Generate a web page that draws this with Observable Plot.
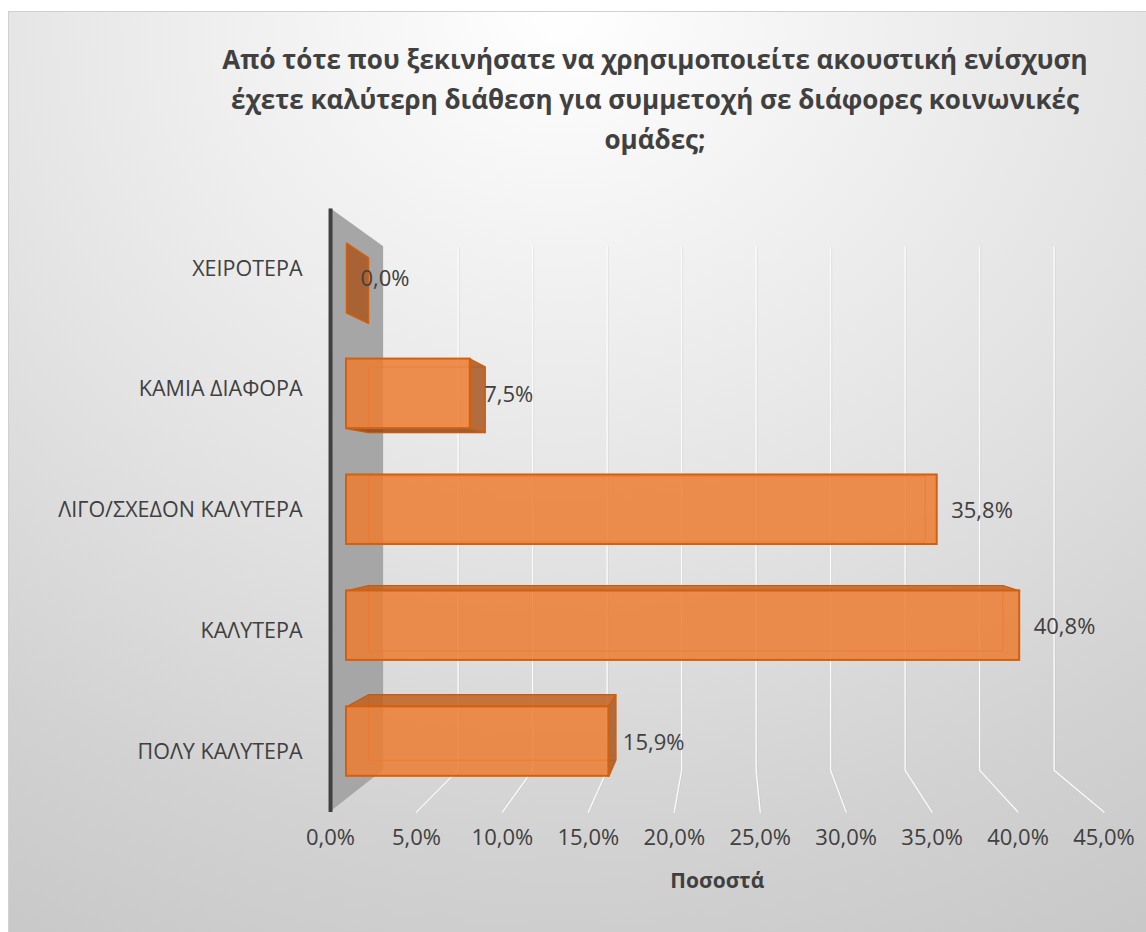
<!DOCTYPE html>
<html>
<head>
<meta charset="utf-8">
<script src="https://cdn.jsdelivr.net/npm/d3@7"></script>
<script src="https://cdn.jsdelivr.net/npm/@observablehq/plot@0.6"></script>
<style>
  html, body { margin: 0; padding: 0; background: #ffffff; }
  #wrap { position: relative; width: 1146px; height: 932px; overflow: hidden; }
  #frame {
    position: absolute; left: 8px; top: 11px; width: 1150px; height: 930px;
    box-sizing: border-box; border: 1px solid #d0d0d0;
    background: radial-gradient(ellipse 110% 120% at 48% 0%, #ffffff 0%, #f3f3f3 20%, #e3e3e3 48%, #d2d2d2 75%, #c5c5c5 100%);
  }
  #title {
    position: absolute; left: 205px; top: 39px; width: 900px;
    text-align: center; font-family: "Open Sans", sans-serif; font-weight: 700;
    font-size: 26px; line-height: 40px; color: #404040; white-space: nowrap;
  }
  #chart { position: absolute; left: 0; top: 0; }
  #chart svg { background: none !important; overflow: visible; }
</style>
</head>
<body>
<div id="wrap">
  <div id="frame"></div>
  <div id="title"></div>
  <div id="chart"></div>
</div>
<script>
// ---- data ----
const titleLines = [
  "Από τότε που ξεκινήσατε να χρησιμοποιείτε ακουστική ενίσχυση",
  "έχετε καλύτερη διάθεση για συμμετοχή σε διάφορες κοινωνικές",
  "ομάδες;"
];
const categories = ["ΧΕΙΡΟΤΕΡΑ", "ΚΑΜΙΑ ΔΙΑΦΟΡΑ", "ΛΙΓΟ/ΣΧΕΔΟΝ ΚΑΛΥΤΕΡΑ", "ΚΑΛΥΤΕΡΑ", "ΠΟΛΥ ΚΑΛΥΤΕΡΑ"];
const values = [0.0, 7.5, 35.8, 40.8, 15.9];
const tickValues = [0, 5, 10, 15, 20, 25, 30, 35, 40, 45];
const axisTitle = "Ποσοστά";

// ---- perspective (in data units) ----
const VX = 23.2, VY = 1.89;           // vanishing point
const K_BAR_BACK = 0.9425, K_WALL = 0.903, K_FRONT = 1.0417;
const H = 0.3;                         // half bar thickness (band units)
const proj = (x, y, k) => ({x: VX + (x - VX) * k, y: VY + (y - VY) * k});
const fmt = v => d3.format(".1f")(v).replace(".", ",") + "%";

document.getElementById("title").innerHTML = titleLines.join("<br>");

const rows = categories.map((c, i) => ({cat: c, i, v: values[i]}));

// polygons
const poly = (id, pts) => pts.map(([x, y, k]) => ({id, ...proj(x, y, k)}));
const backFaces = [], topFaces = [], bottomFaces = [], rightFaces = [];
rows.forEach(({i, v}) => {
  const y1 = i - H, y2 = i + H, f = 1, b = K_BAR_BACK;
  backFaces.push(...poly("b" + i, [[0, y1, b], [v, y1, b], [v, y2, b], [0, y2, b], [0, y1, b]]));
  if (y1 > VY) topFaces.push(...poly("t" + i, [[0, y1, f], [v, y1, f], [v, y1, b], [0, y1, b], [0, y1, f]]));
  if (y2 < VY) bottomFaces.push(...poly("d" + i, [[0, y2, f], [v, y2, f], [v, y2, b], [0, y2, b], [0, y2, f]]));
  if (v < VX) rightFaces.push(...poly("r" + i, [[v, y1, f], [v, y1, b], [v, y2, b], [v, y2, f], [v, y1, f]]));
});

// wall & grid
const yTop = -0.5, yBot = 4.5;
const wall = [
  {x: proj(0, yTop, K_FRONT).x, y1: proj(0, yBot, K_FRONT).y, y2: proj(0, yTop, K_FRONT).y},
  {x: proj(0, yTop, K_WALL).x, y1: proj(0, yBot, K_WALL).y, y2: proj(0, yTop, K_WALL).y}
];
const axisLine = [proj(0, yTop, K_FRONT), proj(0, yBot, K_FRONT)];
const grid = tickValues.filter(t => t > 0).flatMap(t => [
  {t, ...proj(t, yTop, K_WALL)}, {t, ...proj(t, yBot, K_WALL)}, {t, ...proj(t, yBot, K_FRONT)}
]);
const ticks = tickValues.map(t => ({t, ...proj(t, yBot, K_FRONT)}));
const catLabels = rows.map(r => ({cat: r.cat, ...proj(0, r.i, K_FRONT)}));
const titlePos = [{label: axisTitle, ...proj(22.5, yBot, K_FRONT)}];

const FONT = "'Open Sans', sans-serif";
const chart = Plot.plot({
  width: 1146, height: 932,
  x: {domain: [0, 45], range: [346, 1088.5], axis: null},
  y: {domain: [-0.5, 4.5], range: [219.5, 799], axis: null},
  style: {background: "transparent", fontFamily: FONT, color: "#404040"},
  marks: [
    // side wall
    Plot.areaY(wall, {x: "x", y1: "y1", y2: "y2", fill: "#a6a6a6"}),
    Plot.line(axisLine, {x: "x", y: "y", stroke: "#404040", strokeWidth: 4, strokeLinecap: "butt"}),
    // gridlines
    Plot.line(grid, {x: "x", y: "y", z: "t", stroke: "#b8b8b8", strokeOpacity: 0.35, strokeWidth: 1, dx: 1, strokeLinejoin: "miter"}),
    Plot.line(grid, {x: "x", y: "y", z: "t", stroke: "#fbfbfb", strokeWidth: 1.3, strokeLinejoin: "miter"}),
    // bars: back edges
    Plot.line(backFaces, {x: "x", y: "y", z: "id", stroke: "#d9651b", strokeWidth: 1, strokeOpacity: 0.8, fill: "none"}),
    // top / bottom / right faces
    Plot.line(topFaces, {x: "x", y: "y", z: "id", fill: "#c0601f", fillOpacity: 0.85, stroke: "#c55a11", strokeWidth: 1.2}),
    Plot.line(bottomFaces, {x: "x", y: "y", z: "id", fill: "#8f4716", fillOpacity: 0.85, stroke: "#c55a11", strokeWidth: 1.2}),
    Plot.line(rightFaces, {x: "x", y: "y", z: "id", fill: "#a8561f", fillOpacity: 0.85, stroke: "#d0600f", strokeWidth: 1.5}),
    // front faces
    Plot.rect(rows.filter(r => r.v > 0), {x1: 0, x2: "v", y1: r => r.i - H, y2: r => r.i + H,
      fill: "#ED7D31", fillOpacity: 0.85, stroke: "#d2600f", strokeWidth: 2}),
    // data labels
    Plot.text(rows, {x: "v", y: "i", text: r => fmt(r.v), dx: 14, dy: 1, textAnchor: "start",
      fontSize: 22, fill: "#404040", fontFamily: FONT}),
    // category labels
    Plot.text(catLabels, {x: "x", y: "y", text: "cat", dx: -28, textAnchor: "end",
      fontSize: 21.5, fill: "#404040", fontFamily: FONT}),
    // tick labels
    Plot.text(ticks, {x: "x", y: "y", text: d => fmt(d.t), dy: 26, textAnchor: "middle",
      fontSize: 22, fill: "#404040", fontFamily: FONT}),
    // axis title
    Plot.text(titlePos, {x: "x", y: "y", text: "label", dy: 69, textAnchor: "middle",
      fontSize: 21, fontWeight: "bold", fill: "#404040", fontFamily: FONT})
  ]
});
document.getElementById("chart").appendChild(chart);
</script>
</body>
</html>
